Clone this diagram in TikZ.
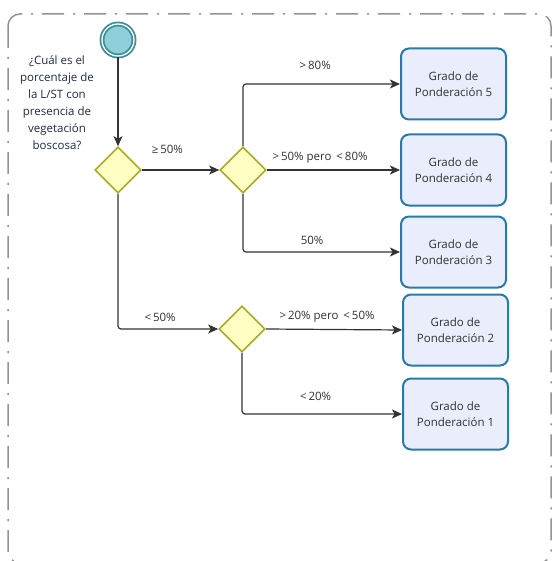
\documentclass[tikz,border=0pt]{standalone}
\usepackage{fontspec}
\setmainfont{Open Sans}
\usepackage{tikz}
\usetikzlibrary{arrows.meta, shapes.geometric}

\definecolor{inicio}{HTML}{8FCFDA}
\definecolor{iniciob}{HTML}{3F8D9C}
\definecolor{rombo}{HTML}{FFFFC4}
\definecolor{rombob}{HTML}{A9A928}
\definecolor{caja}{HTML}{E9EDFC}
\definecolor{cajab}{HTML}{2A7AA7}
\definecolor{linea}{HTML}{333333}
\definecolor{texto}{HTML}{1F2A44}

\begin{document}
\begin{tikzpicture}[
        x=1pt, y=-1pt,
        gradebox/.style={
            draw=cajab,
            fill=caja,
            line width=2pt,
            rounded corners=8pt,
            minimum width=105pt,
            minimum height=71pt,
            align=center,
            text=linea,
            font=\fontsize{11.5}{16.5}\selectfont
        },
        gate/.style={
            diamond,
            draw=rombob,
            fill=rombo,
            line width=1.6pt,
            minimum width=46pt,
            minimum height=46pt,
            inner sep=0pt
        },
        arrow/.style={
            -{Stealth[length=10pt,width=9pt,inset=2.5pt]},
            draw=linea,
            line width=1.2pt,
            rounded corners=3pt
        },
        lbl/.style={
            font=\fontsize{11.5}{13}\selectfont,
            text=linea,
            above=3pt
        }
    ]

    \useasboundingbox (0,0) rectangle (553,561);

    % marco
    \begin{scope}
        \clip (0,0) rectangle (553,561);
        \draw[gray!85, line width=1.5pt, rounded corners=12pt,
              dash pattern=on 22pt off 9pt on 2pt off 9pt]
            (8,14) rectangle (551,563);
    \end{scope}

    \node[circle, draw=iniciob, fill=inicio, line width=1.8pt,
          double=white, double distance=1.3pt, minimum size=32pt,
          inner sep=0pt] (start) at (118,40) {};

    \node[align=center, text=texto, font=\fontsize{11.5}{17}\selectfont] (pregunta) at (57,103)
    {¿Cuál es el\\ porcentaje de\\ la L/ST con\\ presencia de\\ vegetación\\ boscosa?};

    \node[gate] (q1) at (118,170) {};
    \node[gate] (q2) at (243,170) {};
    \node[gate] (q3) at (242,329) {};

    \node[gradebox] (g5) at (453.5,84)  {Grado de\\ Ponderación 5};
    \node[gradebox] (g4) at (453.5,170) {Grado de\\ Ponderación 4};
    \node[gradebox] (g3) at (453.5,252) {Grado de\\ Ponderación 3};
    \node[gradebox] (g2) at (455.5,330) {Grado de\\ Ponderación 2};
    \node[gradebox] (g1) at (455.5,414) {Grado de\\ Ponderación 1};

    \draw[arrow] (start.south) -- (q1.north);
    \draw[arrow] (q1.east) -- node[lbl, above=9pt, pos=0.33] {≥\,50\%} (q2.west);
    \draw[arrow] (q1.south) |- node[lbl, pos=0.71] {<\,50\%} (q3.west);

    \draw[arrow] (q2.north) |- node[lbl, above=7pt, pos=0.73] {>\,80\%} (g5.west);
    \draw[arrow] (q2.east) -- node[lbl, pos=0.4] {>\,50\% pero \,<\,80\%} (g4.west);
    \draw[arrow] (q2.south) |- node[lbl, pos=0.72] {50\%} (g3.west);

    \draw[arrow] (q3.east) -- node[lbl, pos=0.45] {>\,20\% pero \,<\,50\%} (g2.west);
    \draw[arrow] (q3.south) |- node[lbl, above=6pt, pos=0.73] {<\,20\%} (g1.west);

\end{tikzpicture}
\end{document}
